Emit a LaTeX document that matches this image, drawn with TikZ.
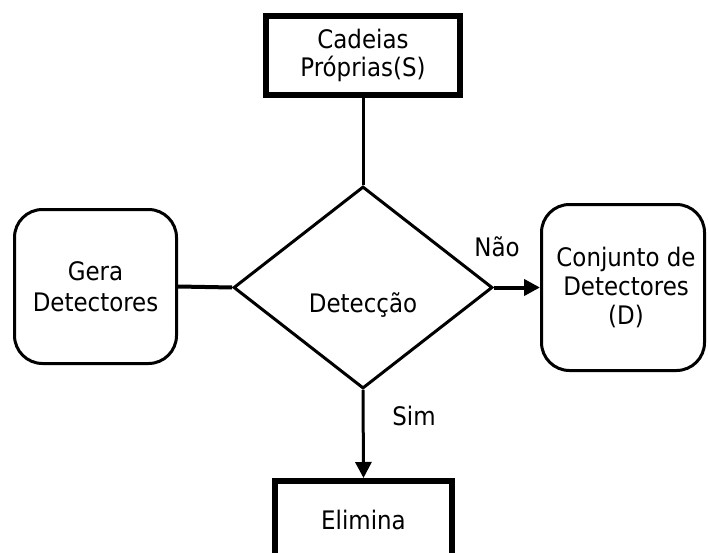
\documentclass[tikz,border=0pt]{standalone}
\usepackage{fontspec}
\setmainfont{DejaVu Sans Condensed}
\usetikzlibrary{shapes.geometric,arrows.meta}
\begin{document}
\begin{tikzpicture}[x=1pt,y=-1pt,
  every node/.style={font=\fontsize{25.5}{29}\selectfont, align=center, inner sep=0pt},
  sharpbox/.style={draw, line width=6pt, rectangle},
  softbox/.style={draw, line width=3pt, rectangle, rounded corners=28pt},
  decision/.style={diamond, draw, line width=3pt},
  link/.style={line width=3pt},
  flow/.style={line width=3pt, -{Triangle[length=16pt,width=16pt]}},
]
% page area
\clip (0,0) rectangle (708,553);
\fill[white] (0,0) rectangle (708,553);

% process boxes
\node[sharpbox, minimum width=194pt, minimum height=79pt] (src) at (363,55.5) {Cadeias\\[-1pt]Próprias(S)};
\node[decision, minimum width=259pt, minimum height=202pt] (det) at (363,287.5) {};
\node (detl) at (363,305) {Detecção};
\node[softbox, minimum width=162pt, minimum height=154pt] (gen) at (95.5,286.5) {Gera\\[2pt]Detectores};
\node[softbox, minimum width=163pt, minimum height=166pt] (set) at (623,287.5) {\hspace*{6pt}Conjunto de\\\hspace*{6pt}Detectores\\\hspace*{6pt}(D)};
\node[sharpbox, minimum width=177pt, minimum height=78pt] (del) at (363.5,520) {Elimina};

% branch labels
\node (no) at (497,247) {Não};
\node (yes) at (414,416) {Sim};

% connectors
\draw[link] (src.south) -- (det.north);
\draw[link, line width=4pt] (gen.east) -- (det.west);
\draw[flow, line width=4pt] (det.east) -- (set.west);
\draw[flow] (det.south) -- (del.north);
\end{tikzpicture}
\end{document}
